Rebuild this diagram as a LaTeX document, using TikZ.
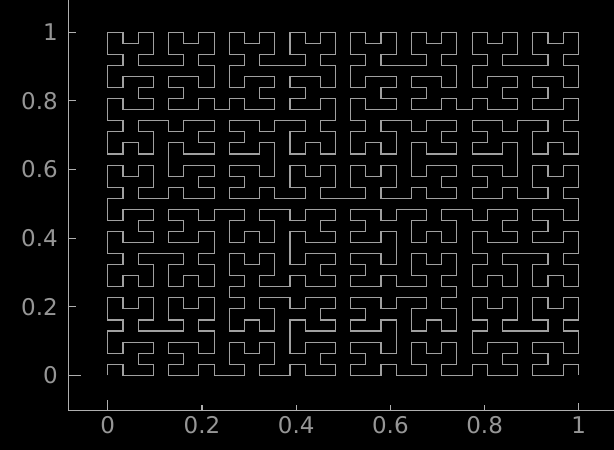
\documentclass[tikz,border=0pt]{standalone}
\usepackage{fontspec}
\setmainfont{DejaVu Sans}
\newcount\hcX \newcount\hcY \newcount\hcT \newcount\hcS \newcount\hcRx \newcount\hcRy \newcount\hcTmp
\def\hcStep{%
  \hcTmp=\hcT \divide\hcTmp by 2
  \hcRx=\hcTmp \divide\hcRx by 2 \multiply\hcRx by -2 \advance\hcRx by \hcTmp
  \hcTmp=\hcT \divide\hcTmp by 2 \multiply\hcTmp by -2 \advance\hcTmp by \hcT
  \ifnum\hcTmp=\hcRx \hcRy=0 \else \hcRy=1 \fi
  \ifnum\hcRy=0
    \ifnum\hcRx=1
      \hcX=-\hcX \advance\hcX by \hcS \advance\hcX by -1
      \hcY=-\hcY \advance\hcY by \hcS \advance\hcY by -1
    \fi
    \hcTmp=\hcX \hcX=\hcY \hcY=\hcTmp
  \fi
  \ifnum\hcRx=1 \advance\hcX by \hcS \fi
  \ifnum\hcRy=1 \advance\hcY by \hcS \fi
  \divide\hcT by 4
  \multiply\hcS by 2
}
\definecolor{curvec}{RGB}{160,160,160}
\definecolor{axisc}{RGB}{175,175,175}
\definecolor{labelc}{RGB}{150,150,150}
\tikzset{
  curve/.style={draw=curvec, line width=1.1pt},
  axisline/.style={draw=axisc, line width=1.1pt},
  ticklabel/.style={text=labelc, font=\fontsize{23}{27}\selectfont, inner sep=0pt},
}
\begin{document}
\begin{tikzpicture}[x=1pt,y=1pt]
\fill[black] (0,0) rectangle (614,450);
\useasboundingbox (0,0) rectangle (614,450);
\gdef\hcPath{}
\foreach \d in {1,...,1023}{%
  \hcT=\d\relax \hcX=0 \hcY=0 \hcS=1
  \hcStep\hcStep\hcStep\hcStep\hcStep
  \xdef\hcPath{\hcPath -- (\the\hcX,\the\hcY)}%
}
\begin{scope}[shift={(107.8,74.7)},x=15.18pt,y=11.065pt]
\draw[curve] (0,0) \hcPath;
\end{scope}
% axes
\coordinate (o) at (68.5,39.7);
\coordinate (ytop) at (68.5,450);
\coordinate (xend) at (614,39.7);
\draw[axisline] (ytop) -- (o) -- (xend);
% x ticks
\foreach \v/\px/\tl/\nm in {0/107.8/10/x0, 0.2/202/5/x1, 0.4/296.2/5/x2, 0.6/390.4/5/x3, 0.8/484.6/5/x4, 1/578.8/7/x5}{
  \coordinate (t\nm) at (\px,39.7);
  \coordinate (u\nm) at (\px,39.7+\tl);
  \draw[axisline] (t\nm) -- (u\nm);
  \node[ticklabel, anchor=center] (l\nm) at (\px,24.5) {\v};
}
% y ticks
\foreach \v/\py/\tl/\nm in {0/74.7/12/y0, 0.2/143.3/7.5/y1, 0.4/211.9/7.5/y2, 0.6/280.5/7.5/y3, 0.8/349.1/7.5/y4, 1/417.7/7.5/y5}{
  \coordinate (t\nm) at (68.5,\py);
  \coordinate (u\nm) at (68.5+\tl,\py);
  \draw[axisline] (t\nm) -- (u\nm);
  \node[ticklabel, anchor=east] (l\nm) at (58,\py) {\v};
}
\end{tikzpicture}
\end{document}
